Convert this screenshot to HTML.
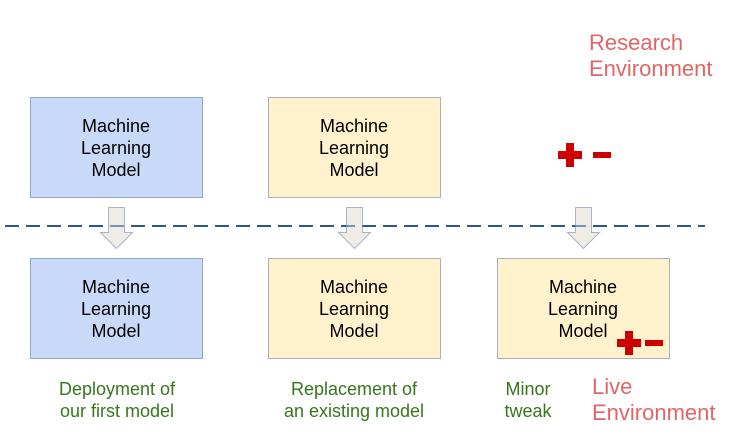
<!DOCTYPE html>
<html><head><style>body{margin:0;background:#fff}svg{display:block}</style></head><body>
<svg width="743" height="443" viewBox="0 0 743 443" xmlns="http://www.w3.org/2000/svg" font-family="Liberation Sans, Arial, sans-serif">
<g stroke-width="1">
<rect x="30.5" y="97.5" width="172" height="100" fill="#c9daf8" stroke="#8fa8c8"/>
<rect x="268.5" y="97.5" width="172" height="100" fill="#fff2cc" stroke="#a9b0b8"/>
<rect x="30.5" y="258.5" width="172" height="100" fill="#c9daf8" stroke="#8fa8c8"/>
<rect x="268.5" y="258.5" width="172" height="100" fill="#fff2cc" stroke="#a9b0b8"/>
<rect x="497.5" y="258.5" width="172" height="100" fill="#fff2cc" stroke="#a9b0b8"/>
</g>
<line x1="5" y1="226" x2="705" y2="226" stroke="#2f5590" stroke-width="2" stroke-dasharray="14,7"/>
<g fill="#eeece4" stroke="#a9b5c6" stroke-width="1">
<polygon points="108.5,207.5 124.5,207.5 124.5,232.5 132.5,232.5 116.5,248.5 100.5,232.5 108.5,232.5"/>
<polygon points="346.5,207.5 362.5,207.5 362.5,232.5 370.5,232.5 354.5,248.5 338.5,232.5 346.5,232.5"/>
<polygon points="575.5,207.5 591.5,207.5 591.5,232.5 599.5,232.5 583.5,248.5 567.5,232.5 575.5,232.5"/>
</g>
<line x1="5" y1="226" x2="705" y2="226" stroke="#2f5590" stroke-width="2" stroke-dasharray="14,7" opacity="0.6"/>
<g font-size="18" fill="#000" text-anchor="middle">
<text x="116" y="132">Machine</text><text x="116" y="154">Learning</text><text x="116" y="176">Model</text>
<text x="354" y="132">Machine</text><text x="354" y="154">Learning</text><text x="354" y="176">Model</text>
<text x="116" y="293">Machine</text><text x="116" y="315">Learning</text><text x="116" y="337">Model</text>
<text x="354" y="293">Machine</text><text x="354" y="315">Learning</text><text x="354" y="337">Model</text>
<text x="583" y="293">Machine</text><text x="583" y="315">Learning</text><text x="583" y="337">Model</text>
</g>
<g fill="#cc0000">
<rect x="558" y="151" width="24" height="8"/><rect x="566" y="143" width="8" height="24"/>
<rect x="593" y="152" width="18" height="6"/>
<rect x="617" y="339" width="24" height="8"/><rect x="625" y="331" width="8" height="24"/>
<rect x="645" y="340" width="18" height="6"/>
</g>
<g font-size="18" fill="#38761d" text-anchor="middle">
<text x="117" y="395">Deployment of</text><text x="117" y="417">our first model</text>
<text x="354" y="395">Replacement of</text><text x="354" y="417">an existing model</text>
<text x="528" y="395">Minor</text><text x="528" y="417">tweak</text>
</g>
<g font-size="22" fill="#e06666">
<text x="589" y="50">Research</text><text x="589" y="76">Environment</text>
<text x="592" y="394">Live</text><text x="592" y="420">Environment</text>
</g>
</svg>
</body></html>
